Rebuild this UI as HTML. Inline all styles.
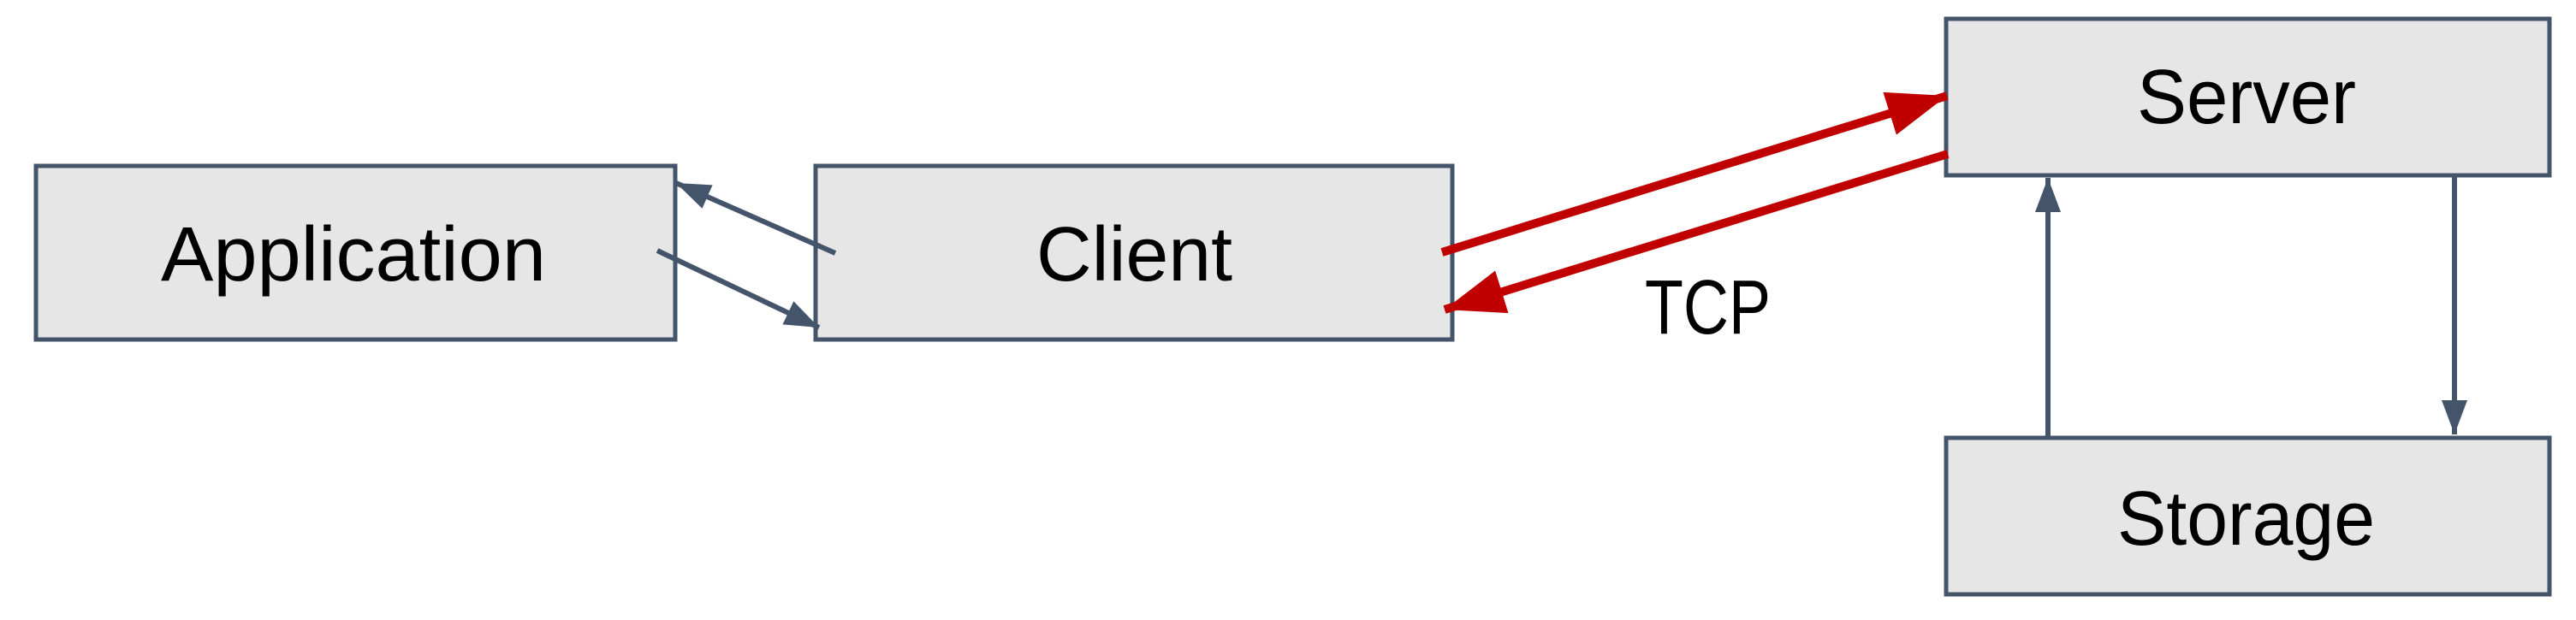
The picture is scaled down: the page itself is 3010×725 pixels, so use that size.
<!DOCTYPE html>
<html><head><style>html,body{margin:0;padding:0;background:#fff;width:3010px;height:725px;overflow:hidden}</style></head>
<body>
<svg width="3010" height="725" viewBox="0 0 3010 725" xmlns="http://www.w3.org/2000/svg">
<defs>
<marker id="g" markerUnits="userSpaceOnUse" markerWidth="50" markerHeight="40" refX="40" refY="15" orient="auto"><path d="M0,0 L40,15 L0,30 Z" fill="#44546A"/></marker>
<marker id="r" markerUnits="userSpaceOnUse" markerWidth="80" markerHeight="60" refX="70" refY="26" orient="auto"><path d="M0,0 L70,26 L0,52 Z" fill="#C00000"/></marker>
</defs>
<g fill="#E6E6E6" stroke="#44546A" stroke-width="5">
<rect x="42" y="194" width="747" height="203"/>
<rect x="953" y="194" width="744" height="203"/>
<rect x="2274" y="22" width="705" height="183"/>
<rect x="2274" y="512" width="705" height="183"/>
</g>
<g font-family="'Liberation Sans',sans-serif" font-size="90" fill="#000">
<text x="188" y="328" textLength="450" lengthAdjust="spacingAndGlyphs">Application</text>
<text x="1211" y="328" textLength="229" lengthAdjust="spacingAndGlyphs">Client</text>
<text x="2497" y="144" textLength="256" lengthAdjust="spacingAndGlyphs">Server</text>
<text x="2474" y="637" textLength="301" lengthAdjust="spacingAndGlyphs">Storage</text>
<text x="1922" y="390" textLength="147" lengthAdjust="spacingAndGlyphs">TCP</text>
</g>
<g stroke="#44546A" stroke-width="6" fill="none">
<line x1="976" y1="296" x2="790" y2="214" marker-end="url(#g)"/>
<line x1="768" y1="293" x2="957" y2="383" marker-end="url(#g)"/>
<line x1="2393" y1="510" x2="2393" y2="208" marker-end="url(#g)"/>
<line x1="2868" y1="207" x2="2868" y2="508" marker-end="url(#g)"/>
</g>
<g stroke="#C00000" stroke-width="10" fill="none">
<line x1="1685" y1="295" x2="2275" y2="112" marker-end="url(#r)"/>
<line x1="2276" y1="180" x2="1688" y2="362" marker-end="url(#r)"/>
</g>
</svg>
</body></html>
